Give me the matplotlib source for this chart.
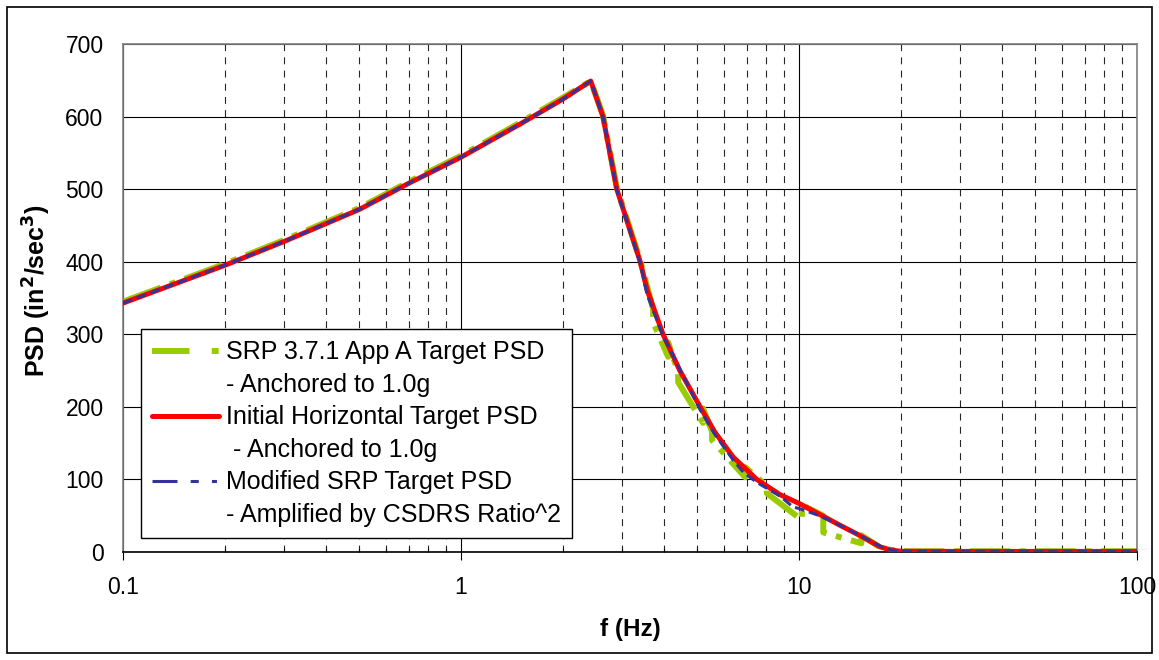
import numpy as np
import matplotlib
matplotlib.use('Agg')
from matplotlib import pyplot as plt
from matplotlib.lines import Line2D
from matplotlib.patches import Rectangle
from matplotlib.ticker import LogLocator, NullFormatter

plt.rcParams['font.family'] = ['Liberation Sans', 'DejaVu Sans']
plt.rcParams['lines.scale_dashes'] = False

# SRP 3.7.1 App A target PSD - anchored to 1.0g
green_f = [0.1, 0.2, 0.3, 0.5, 0.7, 1.0, 1.5, 2.0, 2.42, 2.63, 2.89, 3.39, 3.70, 3.70, 4.10, 4.10,
           4.39, 4.39, 5.20, 5.20, 5.53, 5.53, 6.93, 6.93, 8.03, 8.03, 10.2, 10.2, 11.8, 11.8,
           15.3, 15.3, 17.7, 21, 30, 100]
green_psd = [345, 397, 430, 474, 510, 546, 592, 626, 649, 602, 502, 402, 335, 317, 269, 289,
             248, 234, 178, 198, 166, 154, 103, 117, 91, 81, 44, 65, 50, 27,
             12, 23, 4, 1, 1, 1]

# initial horizontal target PSD - anchored to 1.0g
red_f = [0.1, 0.2, 0.3, 0.5, 0.7, 1.0, 1.5, 2.0, 2.42, 2.63, 2.89, 3.39, 3.55, 3.96, 4.44,
         5.1, 5.64, 6.38, 7.5, 8.79, 10, 11.6, 13.2, 15.1, 17.4, 18.6, 19.9, 30, 50, 100]
red_psd = [343, 395, 428, 472, 508, 544, 590, 624, 649, 600, 500, 400, 362, 300, 250,
           200, 165, 131, 100, 79, 67, 51, 37, 23, 7, 3, 1, 0.8, 0.8, 0.8]

# modified SRP target PSD - amplified by CSDRS ratio^2
blue_f = [0.1, 0.2, 0.3, 0.5, 0.7, 1.0, 1.5, 2.0, 2.42, 2.63, 2.89, 3.39, 3.55, 3.96, 4.44,
          5.1, 5.64, 6.38, 6.84, 7.5, 8.79, 9.6, 10, 11.5, 13.2, 15.1, 17.4, 18.6, 19.9,
          25, 40, 100]
blue_psd = [343, 395, 428, 472, 508, 544, 590, 624, 649, 600, 498, 398, 355, 298, 252,
            196, 162, 127, 110, 96, 77, 62, 60, 50, 37, 23, 8, 3, 1, 0.5, 0.5, 0.5]

legend_labels = ['SRP 3.7.1 App A Target PSD', '- Anchored to 1.0g',
                 'Initial Horizontal Target PSD', ' - Anchored to 1.0g',
                 'Modified SRP Target PSD', '- Amplified by CSDRS Ratio^2']
x_ticks = [0.1, 1, 10, 100]
x_tick_labels = ['0.1', '1', '10', '100']
y_ticks = [0, 100, 200, 300, 400, 500, 600, 700]

GREEN = '#99CC00'
RED = '#FF0000'
BLUE = '#333399'

fig = plt.figure(figsize=(11.59, 6.60), dpi=100)
ax = fig.add_axes([123 / 1159, 1 - 552 / 660, 1014 / 1159, 508 / 660])

ax.plot(green_f, green_psd, color=GREEN, lw=4.3, dashes=(29, 7, 4.3, 7), zorder=2)
ax.plot(red_f, red_psd, color=RED, lw=3.6, solid_capstyle='round', zorder=3)
ax.plot(blue_f, blue_psd, color=BLUE, lw=2.2, dashes=(7, 3.5), zorder=4)

ax.set_xscale('log')
ax.set_xlim(0.1, 100)
ax.set_ylim(0, 700)
ax.set_xticks(x_ticks, x_tick_labels)
ax.xaxis.set_minor_locator(LogLocator(base=10, subs=np.arange(2, 10)))
ax.xaxis.set_minor_formatter(NullFormatter())
ax.set_yticks(y_ticks)

ax.set_axisbelow(True)
ax.grid(which='major', axis='both', color='k', lw=0.8)
ax.grid(which='minor', axis='x', color='0.15', lw=0.8, ls=(0, (5, 4.5)))

ax.tick_params(axis='x', which='major', direction='out', length=6, width=0.8,
               pad=11, labelsize=16.5)
ax.tick_params(axis='x', which='minor', direction='in', length=3, width=0.8)
ax.tick_params(axis='y', length=0, pad=14, labelsize=16.5)

for side in ['left', 'top', 'right']:
    ax.spines[side].set_color('#808080')
    ax.spines[side].set_linewidth(1.2)
ax.spines['bottom'].set_color('k')
ax.spines['bottom'].set_linewidth(1.2)

ax.set_xlabel('f (Hz)', fontsize=17.5, fontweight='bold', labelpad=14)
ax.set_ylabel('PSD (in$^\\mathbf{2}$/sec$^\\mathbf{3}$)', fontsize=18, fontweight='bold')
ax.yaxis.set_label_coords((53 - 123) / 1014, 1 - (291 - 44) / 508)

blank = Line2D([], [], color='none')
handles = [
    Line2D([], [], color=GREEN, lw=4.3, dashes=(27, 16, 5, 16)),
    blank,
    Line2D([], [], color=RED, lw=3.6, solid_capstyle='round'),
    blank,
    Line2D([], [], color=BLUE, lw=2.2, dashes=(18, 9.5, 5.8, 9.5, 3.6, 9.5)),
    blank,
]
leg = ax.legend(handles, legend_labels, loc='upper left',
                bbox_to_anchor=((141 - 123) / 1014, 1 - (329 - 44) / 508),
                borderaxespad=0, fontsize=18, handlelength=2.67, handletextpad=0.28,
                labelspacing=0.34, borderpad=0.45, fancybox=False, framealpha=1,
                edgecolor='k')
leg.get_frame().set_linewidth(1.0)

fig.patches.append(Rectangle((7 / 1159, 7 / 660), 1145 / 1159, 646 / 660,
                             transform=fig.transFigure, fill=False,
                             edgecolor='k', lw=1.2))

fig.savefig('out.png', dpi=100)
